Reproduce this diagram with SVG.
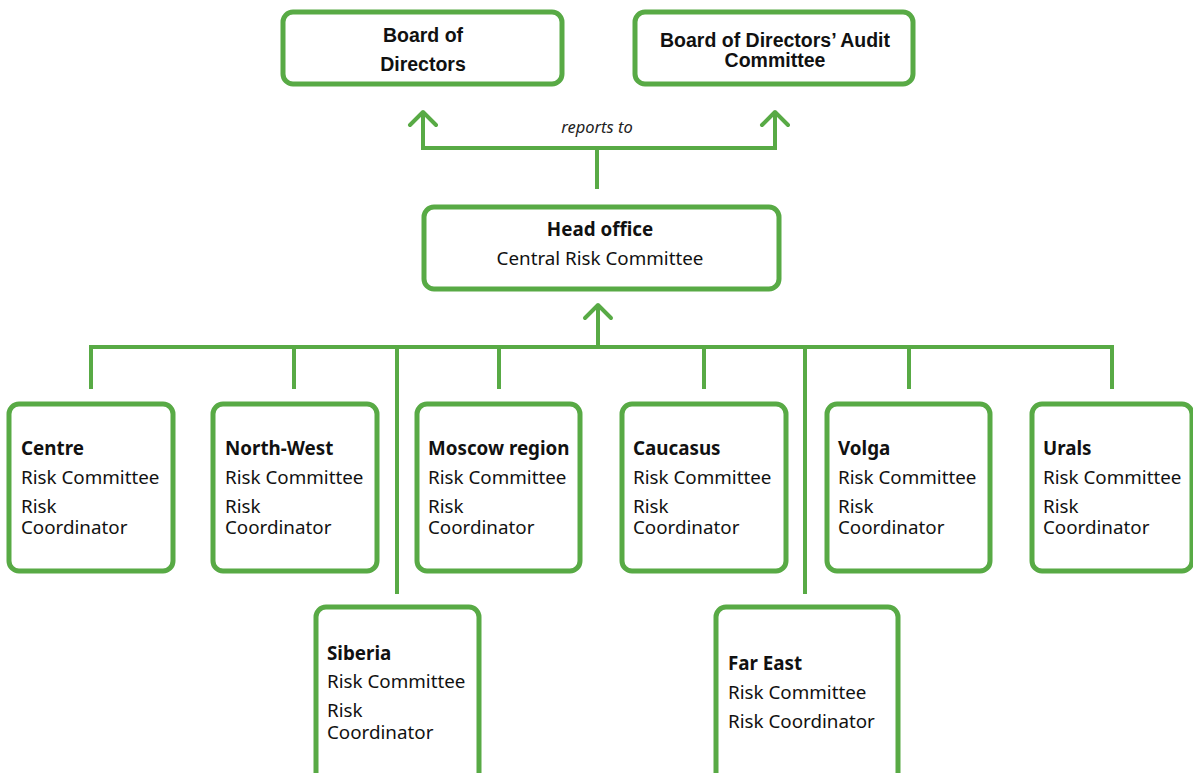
<svg xmlns="http://www.w3.org/2000/svg" width="1193" height="773" viewBox="0 0 1193 773">
  <style>
    .box { fill: #ffffff; stroke: #58aa45; stroke-width: 5; }
    .line { fill: none; stroke: #58aa45; stroke-width: 4; stroke-linecap: square; }
    .head { fill: none; stroke: #58aa45; stroke-width: 4; stroke-linecap: round; stroke-linejoin: round; }
    .top { font-family: "Liberation Sans", Arial, sans-serif; font-weight: bold; font-size: 19.5px; fill: #111111; text-anchor: middle; }
    .t { font-family: "Noto Sans", "Open Sans", sans-serif; font-size: 18.8px; fill: #111111; }
    .b { font-weight: bold; }
    .c { text-anchor: middle; }
    .lbl { font-family: "Noto Sans", "Open Sans", sans-serif; font-style: italic; font-size: 16.5px; fill: #222222; text-anchor: middle; }
  </style>

  <!-- connectors -->
  <g id="connectors">
    <!-- head office up to the two boards -->
    <path class="line" d="M597 187 V148 M423 148 H775 M423 148 V114 M775 148 V114"/>
    <path class="head" d="M410 125 L423 112 L436 125 M762 125 L775 112 L788 125"/>
    <text class="lbl" x="597" y="133">reports to</text>
    <!-- regions up to head office -->
    <path class="line" d="M91 347 H1112 M598 347 V307"/>
    <path class="head" d="M585 318 L598 305 L611 318"/>
    <path class="line" d="M91 347 V387 M294 347 V387 M499 347 V387 M704 347 V387 M909 347 V387 M1112 347 V387"/>
    <path class="line" d="M397 347 V592 M805 347 V592"/>
  </g>

  <g id="board">
    <rect class="box" x="283" y="12" width="279" height="72" rx="10"/>
    <text class="top" x="423" y="42">Board of</text>
    <text class="top" x="423" y="71">Directors</text>
  </g>

  <g id="audit">
    <rect class="box" x="635" y="12" width="278" height="72" rx="10"/>
    <text class="top" x="775" y="47">Board of Directors’ Audit</text>
    <text class="top" x="775" y="67">Committee</text>
  </g>

  <g id="head-office">
    <rect class="box" x="424" y="207" width="355" height="82" rx="10"/>
    <text class="t b c" x="600" y="236">Head office</text>
    <text class="t c" x="600" y="265">Central Risk Committee</text>
  </g>

  <g id="centre">
    <rect class="box" x="9" y="404" width="164" height="167" rx="10"/>
    <text class="t b" x="21" y="455">Centre</text>
    <text class="t" x="21" y="484">Risk Committee</text>
    <text class="t" x="21" y="513">Risk</text>
    <text class="t" x="21" y="534">Coordinator</text>
  </g>

  <g id="north-west">
    <rect class="box" x="213" y="404" width="164" height="167" rx="10"/>
    <text class="t b" x="225" y="455">North-West</text>
    <text class="t" x="225" y="484">Risk Committee</text>
    <text class="t" x="225" y="513">Risk</text>
    <text class="t" x="225" y="534">Coordinator</text>
  </g>

  <g id="moscow-region">
    <rect class="box" x="417" y="404" width="163" height="167" rx="10"/>
    <text class="t b" x="428" y="455">Moscow region</text>
    <text class="t" x="428" y="484">Risk Committee</text>
    <text class="t" x="428" y="513">Risk</text>
    <text class="t" x="428" y="534">Coordinator</text>
  </g>

  <g id="caucasus">
    <rect class="box" x="622" y="404" width="164" height="167" rx="10"/>
    <text class="t b" x="633" y="455">Caucasus</text>
    <text class="t" x="633" y="484">Risk Committee</text>
    <text class="t" x="633" y="513">Risk</text>
    <text class="t" x="633" y="534">Coordinator</text>
  </g>

  <g id="volga">
    <rect class="box" x="827" y="404" width="163" height="167" rx="10"/>
    <text class="t b" x="838" y="455">Volga</text>
    <text class="t" x="838" y="484">Risk Committee</text>
    <text class="t" x="838" y="513">Risk</text>
    <text class="t" x="838" y="534">Coordinator</text>
  </g>

  <g id="urals">
    <rect class="box" x="1032" y="404" width="160" height="167" rx="10"/>
    <text class="t b" x="1043" y="455">Urals</text>
    <text class="t" x="1043" y="484">Risk Committee</text>
    <text class="t" x="1043" y="513">Risk</text>
    <text class="t" x="1043" y="534">Coordinator</text>
  </g>

  <g id="siberia">
    <rect class="box" x="316" y="607" width="163" height="180" rx="10"/>
    <text class="t b" x="327" y="660">Siberia</text>
    <text class="t" x="327" y="688">Risk Committee</text>
    <text class="t" x="327" y="717">Risk</text>
    <text class="t" x="327" y="739">Coordinator</text>
  </g>

  <g id="far-east">
    <rect class="box" x="716" y="607" width="182" height="180" rx="10"/>
    <text class="t b" x="728" y="670">Far East</text>
    <text class="t" x="728" y="699">Risk Committee</text>
    <text class="t" x="728" y="728">Risk Coordinator</text>
  </g>
</svg>
